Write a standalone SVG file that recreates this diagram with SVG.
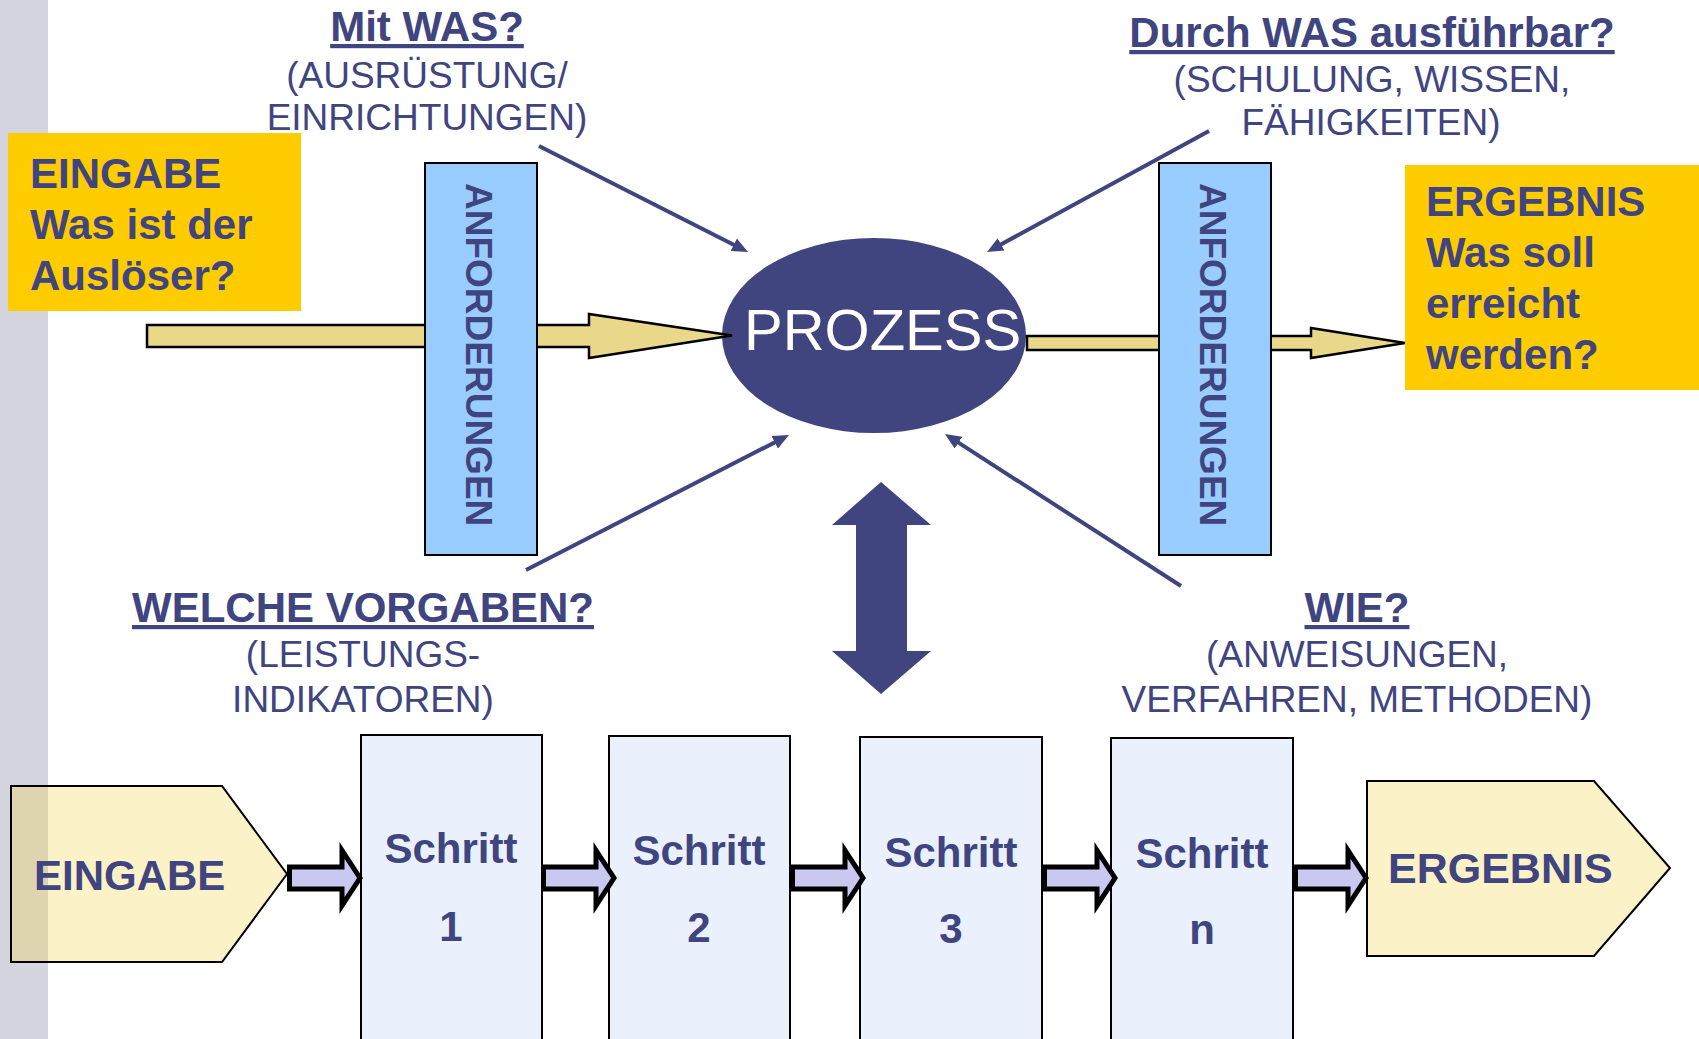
<svg xmlns="http://www.w3.org/2000/svg" xmlns:xlink="http://www.w3.org/1999/xlink" width="1699" height="1039" viewBox="0 0 1699 1039">
<defs>
<style>
text{font-family:"Liberation Sans",Arial,sans-serif;fill:#40447f}
.b{font-weight:bold;font-size:42px}
.n{font-size:37px}
.c{text-anchor:middle}
.u{text-decoration:underline}
.v{font-weight:bold;font-size:37px}
.req{fill:#99ccff;stroke:#000;stroke-width:2}
.ylw{fill:#ffcc00}
.step{fill:#eaf1fc;stroke:#000;stroke-width:2}
.pent{fill:#f5d546;fill-opacity:0.3;stroke:#000;stroke-width:2}
.big{fill:#e9d889;stroke:#000;stroke-width:2.5}
.thin{stroke:#40447f;stroke-width:4;fill:none}
.blk{fill:#c8c8f0;stroke:#000;stroke-width:5;stroke-linejoin:miter}
</style>
<marker id="ah" viewBox="0 0 16 14" markerWidth="16" markerHeight="14" refX="6" refY="7" orient="auto" markerUnits="userSpaceOnUse">
<path d="M0,0 L16,7 L0,14 Z" fill="#40447f"/>
</marker>
<path id="blkarrow" class="blk" d="M2.5,-11 H55 V-27.5 L73,0 L55,27.5 V11 H2.5 Z"/>
</defs>

<rect x="0" y="0" width="1699" height="1039" fill="#fff"/>
<rect id="sidebar" x="0" y="0" width="48" height="1039" fill="#d4d4de"/>

<g id="prozess">
<ellipse cx="874" cy="335.5" rx="152" ry="97.5" fill="#40447f"/>
<text x="744" y="350" font-size="58" style="fill:#fff">PROZESS</text>
</g>

<g id="flow-arrows">
<path class="big" d="M147,325 H589 V314 L732,335.5 L589,358 V347 H147 Z"/>
<path class="big" d="M1027,336 H1311 V328 L1405,343 L1311,358 V350 H1027 Z"/>
</g>

<g id="anforderungen-links">
<rect class="req" x="425" y="163" width="112" height="392"/>
<text class="v" transform="translate(466,183) rotate(90)">ANFORDERUNGEN</text>
</g>

<g id="anforderungen-rechts">
<rect class="req" x="1159" y="163" width="112" height="392"/>
<text class="v" transform="translate(1200,183) rotate(90)">ANFORDERUNGEN</text>
</g>

<g id="eingabe-box">
<rect class="ylw" x="8" y="133" width="293" height="178"/>
<text class="b" x="30" y="188">EINGABE</text>
<text class="b" x="30" y="239">Was ist der</text>
<text class="b" x="30" y="290">Auslöser?</text>
</g>

<g id="ergebnis-box">
<rect class="ylw" x="1405" y="165" width="294" height="225"/>
<text class="b" x="1426" y="216">ERGEBNIS</text>
<text class="b" x="1426" y="267">Was soll</text>
<text class="b" x="1426" y="318">erreicht</text>
<text class="b" x="1426" y="369">werden?</text>
</g>

<g id="label-mit-was">
<text class="b c u" x="427" y="41">Mit WAS?</text>
<text class="n c" x="427" y="88">(AUSRÜSTUNG/</text>
<text class="n c" x="427" y="130">EINRICHTUNGEN)</text>
</g>

<g id="label-durch-was">
<text class="b c u" x="1372" y="47">Durch WAS ausführbar?</text>
<text class="n c" x="1372" y="92">(SCHULUNG, WISSEN,</text>
<text class="n c" x="1371" y="135">FÄHIGKEITEN)</text>
</g>

<g id="label-welche-vorgaben">
<text class="b c u" x="363" y="622">WELCHE VORGABEN?</text>
<text class="n c" x="363" y="667">(LEISTUNGS-</text>
<text class="n c" x="363" y="712">INDIKATOREN)</text>
</g>

<g id="label-wie">
<text class="b c u" x="1357" y="622">WIE?</text>
<text class="n c" x="1357" y="667">(ANWEISUNGEN,</text>
<text class="n c" x="1357" y="712">VERFAHREN, METHODEN)</text>
</g>

<g id="double-arrow">
<path d="M881,482 L931,525 H907 V651 H931 L881,694 L832,651 H856 V525 H832 Z" fill="#40447f"/>
</g>

<g id="eingabe-pent">
<path class="pent" d="M11,786 H222 L287,874 L222,962 H11 Z"/>
<text class="b" x="34" y="890">EINGABE</text>
</g>

<g id="schritt-1">
<rect class="step" x="361" y="735" width="181" height="312"/>
<text class="b c" x="451" y="863">Schritt</text>
<text class="b c" x="451" y="941">1</text>
</g>
<g id="schritt-2">
<rect class="step" x="609" y="736" width="181" height="312"/>
<text class="b c" x="699" y="865">Schritt</text>
<text class="b c" x="699" y="942">2</text>
</g>
<g id="schritt-3">
<rect class="step" x="860" y="737" width="182" height="312"/>
<text class="b c" x="951" y="867">Schritt</text>
<text class="b c" x="951" y="943">3</text>
</g>
<g id="schritt-n">
<rect class="step" x="1111" y="738" width="182" height="312"/>
<text class="b c" x="1202" y="868">Schritt</text>
<text class="b c" x="1202" y="944">n</text>
</g>

<g id="ergebnis-pent">
<path class="pent" d="M1367,781 H1594 L1670,868 L1594,956 H1367 Z"/>
<text class="b" x="1388" y="883" style="font-size:43px">ERGEBNIS</text>
</g>

<g id="connectors">
<line class="thin" x1="539" y1="146" x2="739.1" y2="247.5" marker-end="url(#ah)"/>
<line class="thin" x1="1209" y1="131" x2="995.8" y2="247.2" marker-end="url(#ah)"/>
<line class="thin" x1="526" y1="570" x2="780.1" y2="439.6" marker-end="url(#ah)"/>
<line class="thin" x1="1181" y1="586" x2="953.4" y2="439.4" marker-end="url(#ah)"/>
<use xlink:href="#blkarrow" transform="translate(287,878)"/>
<use xlink:href="#blkarrow" transform="translate(541,878)"/>
<use xlink:href="#blkarrow" transform="translate(790,878)"/>
<use xlink:href="#blkarrow" transform="translate(1042,878)"/>
<use xlink:href="#blkarrow" transform="translate(1293,878)"/>
</g>
</svg>
